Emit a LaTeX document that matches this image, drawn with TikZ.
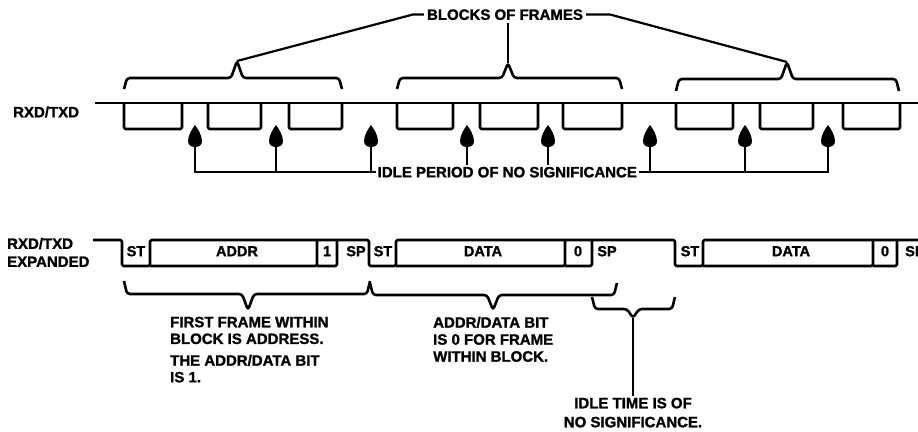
\documentclass[tikz,border=0pt]{standalone}
\usepackage{fontspec}
\setmainfont{Liberation Sans}[BoldFeatures={FakeBold=1.3}]

% horizontal brace: #1 left x, #2 right x, #3 tip x, #4 end y, #5 bar y, #6 tip y, #7 tip name
\newcommand\framebrace[7]{%
  \coordinate (#7) at (#3,#6);
  \draw[brc] (#1,#4) -- (#1+3,#5) -- (#3-6,#5) -- (#7) -- (#3+6,#5) -- (#2-3,#5) -- (#2,#4);}

\begin{document}
\begin{tikzpicture}[x=1pt,y=-1pt,
  sig/.style={line width=2.6pt, line join=round, rounded corners=1.5pt},
  brc/.style={line width=2.6pt, line join=round, rounded corners=3pt},
  lead/.style={line width=2.2pt},
  pointer/.style={line width=2.6pt},
  droptip/.pic={\fill (0,-1) .. controls (3,3) and (7,9.5) .. (7,15)
      .. controls (7,19) and (4,21) .. (0,21)
      .. controls (-4,21) and (-7,19) .. (-7,15)
      .. controls (-7,9.5) and (-3,3) .. (0,-1) -- cycle;},
  lbl/.style={font=\bfseries\fontsize{15}{17}\selectfont, text height=10.7pt, text depth=0pt, inner sep=0pt},
  cell/.style={font=\bfseries\fontsize{14.5}{16}\selectfont, text height=10.4pt, text depth=0pt, inner sep=0pt},
  note/.style={font=\bfseries\fontsize{15}{#1}\selectfont, inner sep=0pt},
  note/.default=16.7pt]

\fill[white] (0,0) rectangle (918,431);
\useasboundingbox (0,0) rectangle (918,431);

% ---- upper trace: blocks of frames ----
\node[lbl, anchor=west] (sig1) at (13,112) {RXD/TXD};
\draw[sig] (95,103) -- (930,103);
\foreach \a/\b in {124/182,208/261,289/342,397/453,480/538,563/622,676/733,760/813,843/900}
  \draw[sig] (\a,103) -- (\a,129) -- (\b,129) -- (\b,103);

\framebrace{124}{342}{237}{89}{78}{61}{tipA}
\framebrace{397}{622}{508}{89}{78}{63}{tipB}
\framebrace{676}{899}{787}{91}{79}{62}{tipC}

\node[lbl, inner sep=3pt] (blocks) at (505,14.5) {BLOCKS OF FRAMES};
\draw[lead] (blocks.west) -- (413,14.5) -- (tipA);
\draw[lead] (blocks.east) -- (610,14.5) -- (tipC);
\draw[lead] (tipB |- blocks.south) -- (tipB);

% idle gaps between frames, each marked by a pointer with a drop-shaped head
\node[lbl, inner sep=1.5pt, anchor=west] (idle) at (376,172) {IDLE PERIOD OF NO SIGNIFICANCE};
\foreach \n/\x in {1/195,2/276,3/371,4/467,5/548,6/650,7/745,8/828}
  \coordinate (up\n) at (\x,126);
\draw[pointer] (idle.west) -| ([yshift=-12pt]up1);
\draw[pointer] (up2 |- idle.west) -- ([yshift=-12pt]up2);
\draw[pointer] (up3 |- idle.west) -- ([yshift=-12pt]up3);
\draw[pointer] (up4 |- idle.north) -- ([yshift=-12pt]up4);
\draw[pointer] (up5 |- idle.north) -- ([yshift=-12pt]up5);
\draw[pointer] (idle.east) -| ([yshift=-12pt]up8);
\draw[pointer] (up6 |- idle.east) -- ([yshift=-12pt]up6);
\draw[pointer] (up7 |- idle.east) -- ([yshift=-12pt]up7);
\foreach \n in {1,...,8}
  \pic at (up\n) {droptip};

% ---- lower trace: frames expanded ----
\node[note=18pt, align=left, anchor=north west] (sig2) at (7,237.8) {RXD/TXD\\EXPANDED};
\draw[sig] (93,240) -- (122,240) -- (122,266) -- (150,266) -- (150,240) -- (369,240)
  -- (369,266) -- (396,266) -- (396,240) -- (675,240) -- (675,266) -- (703,266)
  -- (703,240) -- (930,240);
\draw[sig] (150,266) -- (317,266) -- (317,240) (317,266) -- (337,266) -- (337,240);
\draw[sig] (396,266) -- (565,266) -- (565,240) (565,266) -- (592,266) -- (592,240);
\draw[sig] (703,266) -- (873,266) -- (873,240) (873,266) -- (897,266) -- (897,240);

\node[cell] (st1) at (136,251) {ST};
\node[cell] (addr) at (237,251) {ADDR};
\node[cell] (bit1) at (327,251) {1};
\node[cell] (sp1) at (356,251) {SP};
\node[cell] (st2) at (383,251) {ST};
\node[cell] (data1) at (483,251) {DATA};
\node[cell] (bit2) at (578,251) {0};
\node[cell] (sp2) at (607,251) {SP};
\node[cell] (st3) at (690,251) {ST};
\node[cell] (data2) at (791,251) {DATA};
\node[cell] (bit3) at (885,251) {0};
\node[cell, anchor=west] (sp3) at (905,251) {SP};

\framebrace{124}{370}{248}{281}{294}{310}{tipD}
\framebrace{370}{617}{493}{283}{295}{310}{tipE}
\framebrace{592}{675}{633}{297}{309}{318}{tipF}

\node[note, align=left, anchor=north west] (first) at (170,316.6)
  {FIRST FRAME WITHIN\\BLOCK IS ADDRESS.\\[5pt]THE ADDR/DATA BIT\\IS 1.};
\node[note=17pt, align=left, anchor=north west] (within) at (433,316.6)
  {ADDR/DATA BIT\\IS 0 FOR FRAME\\WITHIN BLOCK.};
\node[note=19pt, align=center, anchor=north, inner sep=2pt] (idletime) at (633,395.6)
  {IDLE TIME IS OF\\NO SIGNIFICANCE.};
\draw[lead] (tipF) -- (idletime.north);
\end{tikzpicture}
\end{document}
